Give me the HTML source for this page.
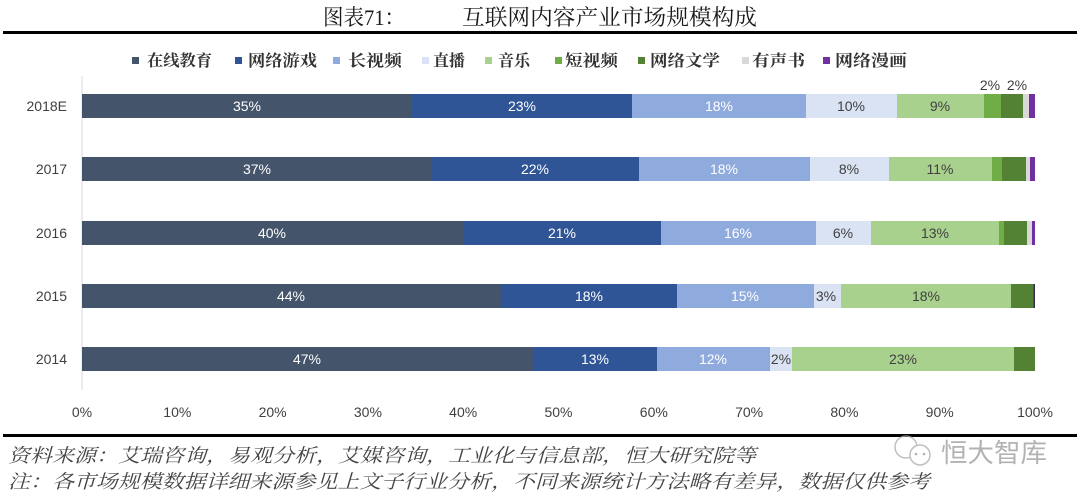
<!DOCTYPE html>
<html><head><meta charset="utf-8"><style>
html,body{margin:0;padding:0;background:#fff;}
svg{display:block;}
.t{font-family:"Liberation Sans","Noto Sans CJK SC",sans-serif;font-size:14px;}
.s{font-family:"Liberation Serif","Noto Serif CJK SC",serif;}
</style></head><body>
<svg width="1080" height="498" viewBox="0 0 1080 498" xmlns="http://www.w3.org/2000/svg">
<rect width="1080" height="498" fill="#fff"/>
<!-- Title -->
<text class="s" x="323" y="25" font-size="22" fill="#1a1a1a" textLength="82" lengthAdjust="spacingAndGlyphs">图表71：</text>
<text class="s" x="462" y="25" font-size="22" fill="#1a1a1a" textLength="295" lengthAdjust="spacingAndGlyphs">互联网内容产业市场规模构成</text>
<rect x="3" y="31" width="1074" height="3" fill="#000"/>
<!-- Legend -->
<g class="s" font-size="16" fill="#333" font-weight="bold">
<rect x="132" y="57" width="7" height="7" fill="#44546a"/><text x="147" y="66" textLength="65" lengthAdjust="spacingAndGlyphs">在线教育</text>
<rect x="235" y="57" width="7" height="7" fill="#2f5597"/><text x="248" y="66" textLength="69" lengthAdjust="spacingAndGlyphs">网络游戏</text>
<rect x="333" y="57" width="7" height="7" fill="#8faadc"/><text x="348" y="66" textLength="54" lengthAdjust="spacingAndGlyphs">长视频</text>
<rect x="422" y="57" width="7" height="7" fill="#dae3f3"/><text x="433" y="66" textLength="32" lengthAdjust="spacingAndGlyphs">直播</text>
<rect x="485" y="57" width="7" height="7" fill="#a9d18e"/><text x="498" y="66" textLength="32" lengthAdjust="spacingAndGlyphs">音乐</text>
<rect x="555" y="57" width="7" height="7" fill="#70ad47"/><text x="565" y="66" textLength="53" lengthAdjust="spacingAndGlyphs">短视频</text>
<rect x="638" y="57" width="7" height="7" fill="#548235"/><text x="650" y="66" textLength="70" lengthAdjust="spacingAndGlyphs">网络文学</text>
<rect x="742" y="57" width="7" height="7" fill="#d9d9d9"/><text x="752" y="66" textLength="53" lengthAdjust="spacingAndGlyphs">有声书</text>
<rect x="823" y="57" width="7" height="7" fill="#7030a0"/><text x="835" y="66" textLength="72" lengthAdjust="spacingAndGlyphs">网络漫画</text>
</g>
<!-- axis -->
<line x1="82" y1="76" x2="82" y2="390" stroke="#d9d9d9" stroke-width="1"/>
<!-- Bars -->
<!-- 2018E -->
<g>
<rect x="82" y="94" width="330" height="24" fill="#44546a"/>
<rect x="412" y="94" width="220" height="24" fill="#2f5597"/>
<rect x="632" y="94" width="174" height="24" fill="#8faadc"/>
<rect x="806" y="94" width="91" height="24" fill="#dae3f3"/>
<rect x="897" y="94" width="87" height="24" fill="#a9d18e"/>
<rect x="984" y="94" width="17" height="24" fill="#70ad47"/>
<rect x="1001" y="94" width="22" height="24" fill="#548235"/>
<rect x="1023" y="94" width="6" height="24" fill="#d9d9d9"/>
<rect x="1029" y="94" width="6" height="24" fill="#7030a0"/>
</g>
<!-- 2017 -->
<g>
<rect x="82" y="157" width="350" height="24" fill="#44546a"/>
<rect x="432" y="157" width="207" height="24" fill="#2f5597"/>
<rect x="639" y="157" width="171" height="24" fill="#8faadc"/>
<rect x="810" y="157" width="79" height="24" fill="#dae3f3"/>
<rect x="889" y="157" width="103" height="24" fill="#a9d18e"/>
<rect x="992" y="157" width="10" height="24" fill="#70ad47"/>
<rect x="1002" y="157" width="24" height="24" fill="#548235"/>
<rect x="1026" y="157" width="4" height="24" fill="#d9d9d9"/>
<rect x="1030" y="157" width="5" height="24" fill="#7030a0"/>
</g>
<!-- 2016 -->
<g>
<rect x="82" y="221" width="381" height="24" fill="#44546a"/>
<rect x="463" y="221" width="198" height="24" fill="#2f5597"/>
<rect x="661" y="221" width="155" height="24" fill="#8faadc"/>
<rect x="816" y="221" width="55" height="24" fill="#dae3f3"/>
<rect x="871" y="221" width="128" height="24" fill="#a9d18e"/>
<rect x="999" y="221" width="5" height="24" fill="#70ad47"/>
<rect x="1004" y="221" width="23" height="24" fill="#548235"/>
<rect x="1027" y="221" width="5" height="24" fill="#d9d9d9"/>
<rect x="1032" y="221" width="3" height="24" fill="#7030a0"/>
</g>
<!-- 2015 -->
<g>
<rect x="82" y="284" width="419" height="24" fill="#44546a"/>
<rect x="501" y="284" width="176" height="24" fill="#2f5597"/>
<rect x="677" y="284" width="137" height="24" fill="#8faadc"/>
<rect x="814" y="284" width="27" height="24" fill="#dae3f3"/>
<rect x="841" y="284" width="170" height="24" fill="#a9d18e"/>
<rect x="1011" y="284" width="22.5" height="24" fill="#548235"/>
<rect x="1033.5" y="284" width="1.5" height="24" fill="#3a2a50"/>
</g>
<!-- 2014 -->
<g>
<rect x="82" y="347" width="451" height="24" fill="#44546a"/>
<rect x="533" y="347" width="124" height="24" fill="#2f5597"/>
<rect x="657" y="347" width="113" height="24" fill="#8faadc"/>
<rect x="770" y="347" width="22" height="24" fill="#dae3f3"/>
<rect x="792" y="347" width="222" height="24" fill="#a9d18e"/>
<rect x="1014" y="347" width="21" height="24" fill="#548235"/>
</g>
<!-- Bar labels -->
<g class="t" text-anchor="middle">
<g fill="#fff">
<text x="247" y="111">35%</text><text x="522" y="111">23%</text><text x="719" y="111">18%</text>
<text x="257" y="174">37%</text><text x="535" y="174">22%</text><text x="724" y="174">18%</text>
<text x="272" y="238">40%</text><text x="562" y="238">21%</text><text x="738" y="238">16%</text>
<text x="291" y="301">44%</text><text x="589" y="301">18%</text><text x="745" y="301">15%</text>
<text x="307" y="364">47%</text><text x="595" y="364">13%</text><text x="713" y="364">12%</text>
</g>
<g fill="#404040">
<text x="851" y="111">10%</text><text x="940" y="111">9%</text>
<text x="990" y="90">2%</text><text x="1017" y="90">2%</text>
<text x="849" y="174">8%</text><text x="940" y="174">11%</text>
<text x="843" y="238">6%</text><text x="935" y="238">13%</text>
<text x="826" y="301">3%</text><text x="926" y="301">18%</text>
<text x="781" y="364">2%</text><text x="903" y="364">23%</text>
</g>
</g>
<!-- Year labels -->
<g class="t" fill="#404040" text-anchor="end">
<text x="67" y="111">2018E</text>
<text x="67" y="174">2017</text>
<text x="67" y="238">2016</text>
<text x="67" y="301">2015</text>
<text x="67" y="364">2014</text>
</g>
<!-- X tick labels -->
<g class="t" fill="#404040" text-anchor="middle">
<text x="82" y="417">0%</text>
<text x="177.3" y="417">10%</text>
<text x="272.6" y="417">20%</text>
<text x="367.9" y="417">30%</text>
<text x="463.2" y="417">40%</text>
<text x="558.5" y="417">50%</text>
<text x="653.8" y="417">60%</text>
<text x="749.1" y="417">70%</text>
<text x="844.4" y="417">80%</text>
<text x="939.7" y="417">90%</text>
<text x="1035" y="417">100%</text>
</g>
<rect x="3" y="434" width="1074" height="3" fill="#000"/>
<!-- Footer -->
<g class="s" font-size="19" fill="#444" font-style="italic">
<text x="8" y="462" textLength="748" lengthAdjust="spacingAndGlyphs">资料来源：艾瑞咨询，易观分析，艾媒咨询，工业化与信息部，恒大研究院等</text>
<text x="8" y="488" textLength="922" lengthAdjust="spacingAndGlyphs">注：各市场规模数据详细来源参见上文子行业分析，不同来源统计方法略有差异，数据仅供参考</text>
</g>
<!-- Watermark -->
<g opacity="0.75">
<circle cx="906" cy="447" r="11" fill="none" stroke="#aaa" stroke-width="1.5"/>
<circle cx="920" cy="455" r="10" fill="#fff" stroke="#aaa" stroke-width="1.5"/>
<circle cx="916" cy="454" r="1.3" fill="#999"/>
<circle cx="924" cy="454" r="1.3" fill="#999"/>
<text x="941" y="462" font-family="'Noto Sans CJK SC',sans-serif" font-size="26" fill="#999" textLength="106" lengthAdjust="spacingAndGlyphs">恒大智库</text>
</g>
</svg>
</body></html>
